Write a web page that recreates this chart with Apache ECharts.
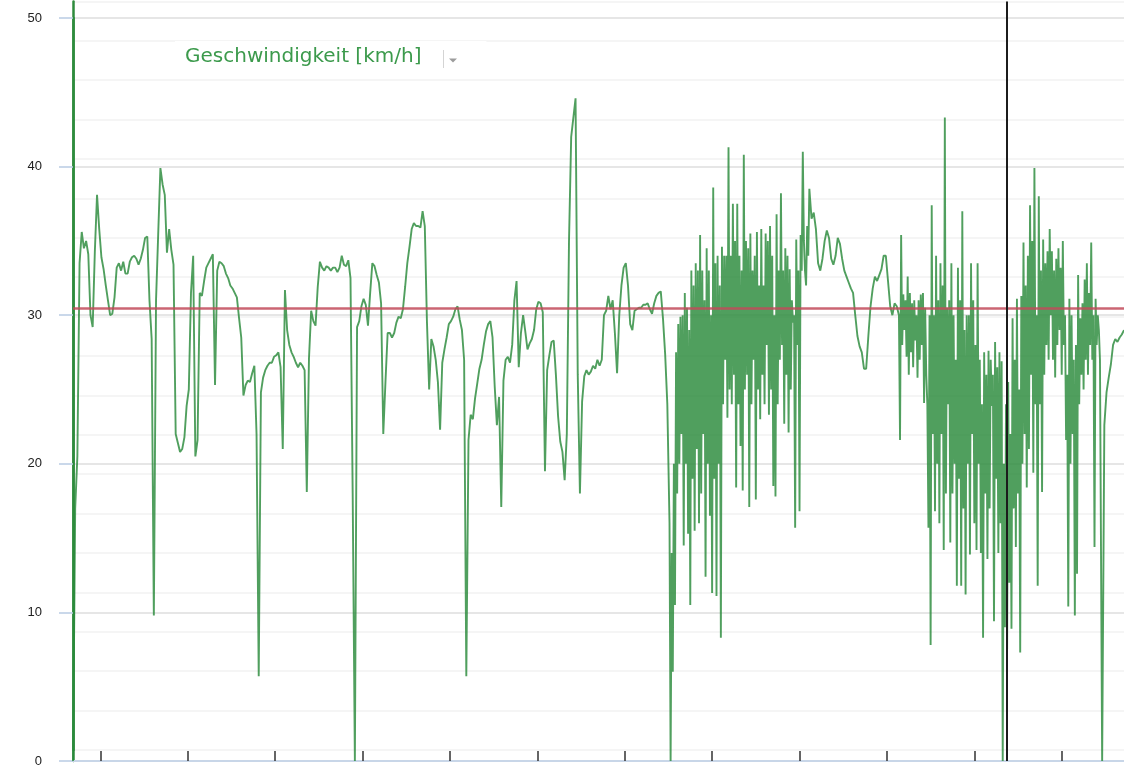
<!DOCTYPE html>
<html>
<head>
<meta charset="utf-8">
<script src="https://cdn.jsdelivr.net/npm/echarts@6/dist/echarts.min.js"></script>
<style>
html,body{margin:0;padding:0;background:#ffffff;}
#chart{width:1124px;height:766px;}
</style>
</head>
<body>
<div id="chart"></div>
<script>
// ---- data ----
const seriesName = 'Geschwindigkeit [km/h]';
const timeMin = 6.875;       // left end of the time axis (minutes)
const timeMax = 127.125;     // right end of the time axis (minutes)
const xTickValues = [10, 20, 30, 40, 50, 60, 70, 80, 90, 100, 110, 120];
const yTickValues = [0, 10, 20, 30, 40, 50];
const avgSpeed = 30.5;       // average speed line
const markerTime = 113.75;   // cursor position (minutes)

// part 1: 6.875 min onward, one reading every 0.25 min
const part1Start = 6.875, part1Step = 0.25;
const speedPart1 = [
  0,17,20.5,33.5,35.6,34.5,35.0,34.1,30.0,29.2,
  34.3,38.1,35.8,33.9,33.1,32.0,31.0,30.0,30.1,31.2,
  33.2,33.5,33.0,33.6,32.8,32.8,33.6,33.9,34.0,33.8,
  33.4,33.8,34.4,35.2,35.3,31.0,28.4,9.8,31.0,35.5,
  39.9,38.8,38.1,34.2,35.8,34.4,33.4,22.0,21.4,20.8,
  21.0,21.8,23.9,25.0,31.5,34.0,20.5,21.6,31.5,31.3,
  32.3,33.2,33.5,33.8,34.1,25.3,33.0,33.6,33.5,33.3,
  32.8,32.5,32.0,31.8,31.5,31.2,29.8,28.5,24.6,25.3,
  25.6,25.5,26.1,26.6,22.0,5.7,24.8,25.8,26.3,26.6,
  26.8,26.8,27.2,27.3,27.5,26.5,21.0,31.7,29.0,28.0,
  27.5,27.2,26.8,26.5,26.8,26.6,26.3,18.1,27.1,30.3,
  29.6,29.3,31.9,33.6,33.2,33.0,33.3,33.2,33.0,33.2,
  33.2,32.9,33.2,34.0,33.4,33.3,33.7,32.5,18.0,0,
  29.2,29.6,30.6,31.1,30.7,29.3,31.5,33.5,33.3,32.7,
  32.2,30.8,22.0,25.5,28.8,28.8,28.5,28.8,29.5,29.9,
  29.8,30.4,31.9,33.5,34.6,35.8,36.2,36.0,36.0,35.9,
  37.0,36.0,29.5,25.0,28.4,27.9,27.0,25.5,22.3,26.8,
  27.7,28.5,29.4,29.6,29.9,30.4,30.6,29.7,29.0,27.0,
  5.7,21.6,23.3,23.0,24.4,25.4,26.4,27.0,28.0,28.9,
  29.4,29.6,28.5,25.2,22.6,24.5,17.1,25.6,27.0,27.2,
  26.8,28.0,31.0,32.3,26.5,28.8,30.0,28.9,27.7,28.1,
  28.4,29.0,30.4,30.9,30.8,30.2,19.5,26.3,27.3,28.2,
  28.3,26.0,23.2,21.5,20.8,18.9,22.0,35.0,42.0,43.3,
  44.6,26.0,18.0,24.2,25.9,26.3,26.0,26.2,26.6,26.4,
  27.0,26.6,27.0,30.0,30.3,31.3,30.4,31.0,28.8,26.1,
  30.0,32.0,33.2,33.5,32.0,29.4,29.0,30.3,30.4,30.5,
  30.5,30.7,30.7,30.8,30.4,30.1,30.8,31.3,31.5,31.6,
  29.8,27.4,24.0
];
// part 2 (busy stretch): 75.125 min onward, one reading every 0.125 min
const part2Start = 75.125, part2Step = 0.125;
const speedPart2 = [
  16,0, 14,6, 20,10.5, 27.5,18, 29.4,20, 29.9,22, 30,14.5, 31.5,20, 30.5,15.3, 29,10.5,
  33.0,19, 32,15.5, 33.5,21, 33,16.0, 35.4,18, 33.0,22, 31,12.4, 34.5,20, 33,16.5, 30,11.3,
  38.6,19, 33.5,11.1, 34.0,20, 32,8.3, 34.6,24, 34.0,27, 34,23.1, 41.3,25, 34.0,24, 37.5,26,
  35,18.4, 37.5,24, 34,21.2, 33,18.2, 40.8,25, 35.0,26, 34.5,17.1, 35.5,24, 33.0,27, 34,17.6,
  35.6,25, 32.0,23, 35.8,26, 32.0,24, 35.5,28, 35,23.3, 36.0,25, 34,18.5, 30,17.8, 36.8,24,
  33.0,27, 38.2,28, 33,22.7, 34.5,26, 34,22.1, 33.1,25, 31,29.5, 30,15.7, 35.1,28, 33,16.8,
  35.4,33, 41.0,35, 33,32.0, 36,34.0,
  38.5
];
// part 3: 91.375 min onward, one reading every 0.25 min
const part3Start = 91.375, part3Step = 0.25;
const speedPart3 = [
  36.5,36.9,35.8,33.5,33.0,33.8,35.0,35.7,35.2,33.8,
  33.4,34.0,35.2,34.8,33.8,33.0,32.6,32.2,31.8,31.5,
  30.0,28.6,27.9,27.5,26.4,26.4,28.6,30.6,31.8,32.6,
  32.3,32.7,33.1,34.0,34.0,32.3,30.6,30.0,30.8,30.6
];
// part 4 (busy stretch): 101.375 min onward, one reading every 0.125 min
const part4Start = 101.375, part4Step = 0.125;
const speedPart4 = [
  30,21.6, 35.4,28, 31.4,29, 31,27.2, 32.6,26, 31.5,27.5, 30.8,26.5, 31,28.3, 30,25.8, 31.0,27,
  31.4,28, 31.5,24.1, 30.5,26, 24,15.7, 30,7.8, 37.4,22, 30,16.8, 34.0,20, 31,16.0, 33.5,22,
  32,14.2, 43.3,18, 30.5,24, 31,14.7, 33.5,18, 30,20.0, 27,11.8, 33.2,19, 31,11.8, 37.0,17,
  29,11.2, 30.0,20, 30,13.9, 33.5,22, 31,16.0, 28,14.2, 33.5,20, 27,14.0, 24,8.3, 27.5,18,
  26,13.6, 27.6,17, 27,23.9, 26,9.4, 28.2,19, 26.5,14.0, 27.5,16, 26.9,0, 20,9, 24,7.5,
  25.5,12, 22,8.9, 29.8,17, 27,14.4, 31.1,18, 25,7.3, 31.3,20, 34.9,22, 32,18.4, 34.0,21,
  37.4,26, 35,19.4, 39.9,24, 30,11.8, 38.0,24, 33,18.1, 35.1,26, 33.5,28, 34.3,27, 35.8,30,
  34.3,27, 33,25.8, 33.8,28, 34.5,29, 33.2,26, 35.0,28, 30,21.6, 26,10.4, 31.1,20, 30,22.0,
  27,9.8, 28,12.6, 32.7,24, 29.8,26, 30.8,25, 32.4,27, 33.5,26, 31.5,28, 34.9,27, 30,14.4,
  31.1,28, 30.0,29,
  27.0
];
// part 5: 124.625 min onward, one reading every 0.25 min
const part5Start = 124.625, part5Step = 0.25;
const speedPart5 = [0,22.6,24.8,25.8,26.7,28.0,28.4,28.2,28.5,28.7,29.0];

// ---- build ----
const parts = [
  [part1Start, part1Step, speedPart1],
  [part2Start, part2Step, speedPart2],
  [part3Start, part3Step, speedPart3],
  [part4Start, part4Step, speedPart4],
  [part5Start, part5Step, speedPart5]
];
const points = [];
parts.forEach(([t0, step, vals]) => vals.forEach((v, i) => points.push([t0 + i * step, v])));

const chart = echarts.init(document.getElementById('chart'), null, {renderer: 'canvas'});
const option = {
  animation: false,
  backgroundColor: '#ffffff',
  grid: [
    {left: 73, right: 0, top: 18, bottom: 5, outerBoundsMode: 'none'},
    {left: 73, right: 0, top: 1.4, bottom: 16, outerBoundsMode: 'none'}
  ],
  legend: {
    data: [{name: seriesName, icon: 'none'}],
    left: 175, top: 41,
    padding: [3, 65, 9, 5],
    itemWidth: 0, itemHeight: 0,
    backgroundColor: '#ffffff',
    selectedMode: false,
    textStyle: {color: '#3c9a4c', fontSize: 20, lineHeight: 26, fontFamily: 'DejaVu Sans'}
  },
  graphic: [
    {type: 'line', z: 100, shape: {x1: 443.5, y1: 50, x2: 443.5, y2: 68}, style: {stroke: '#d4d4d4', lineWidth: 1}},
    {type: 'polygon', z: 100, shape: {points: [[449, 58.5], [457, 58.5], [453, 62.5]]}, style: {fill: '#9c9c9c'}}
  ],
  xAxis: [
    {
      type: 'value', gridIndex: 0, min: timeMin, max: timeMax,
      axisLine: {show: true, onZero: false, lineStyle: {color: '#c8d6e8', width: 2}},
      axisTick: {show: true, inside: true, length: 10, customValues: xTickValues, lineStyle: {color: '#333333', width: 1.5}},
      axisLabel: {show: false},
      splitLine: {show: false}
    },
    {type: 'value', gridIndex: 1, min: timeMin, max: timeMax, show: false}
  ],
  yAxis: [
    {
      type: 'value', gridIndex: 0, min: 0, max: 50, interval: 10,
      axisLine: {show: true, onZero: false, lineStyle: {color: '#2e8b3c', width: 2.5}},
      axisTick: {show: true, length: 14, customValues: yTickValues, lineStyle: {color: '#b9cbe3', width: 1.5}},
      axisLabel: {color: '#222222', fontSize: 13, margin: 31, fontFamily: 'Liberation Sans, Arial, sans-serif', customValues: yTickValues},
      splitLine: {show: true, lineStyle: {color: '#dedede', width: 1.5}}
    },
    {
      type: 'value', gridIndex: 1, min: 0, max: 19, interval: 1,
      axisLine: {show: true, onZero: false, lineStyle: {color: '#2e8b3c', width: 2.5}},
      axisTick: {show: false},
      axisLabel: {show: false},
      splitLine: {show: true, lineStyle: {color: '#f2f2f2', width: 1.5}}
    }
  ],
  series: [
    {
      name: seriesName,
      type: 'line',
      xAxisIndex: 0, yAxisIndex: 0,
      data: points,
      showSymbol: false,
      symbol: 'none',
      sampling: null,
      lineStyle: {color: '#2a8a3a', width: 1.9, opacity: 0.82},
      itemStyle: {color: '#3c9a4c'},
      markLine: {
        silent: true,
        symbol: ['none', 'none'],
        label: {show: false},
        animation: false,
        data: [
          {yAxis: avgSpeed, lineStyle: {color: '#c24a5a', width: 2.5, type: 'solid', opacity: 0.85}},
          {xAxis: markerTime, lineStyle: {color: '#1c1c1c', width: 2, type: 'solid', opacity: 1}}
        ]
      },
      z: 3
    },
    {
      // cursor continuation above the speed grid
      name: 'cursor',
      type: 'line',
      xAxisIndex: 1, yAxisIndex: 1,
      data: [],
      showSymbol: false,
      markLine: {
        silent: true,
        symbol: ['none', 'none'],
        label: {show: false},
        animation: false,
        data: [
          {xAxis: markerTime, lineStyle: {color: '#1c1c1c', width: 2, type: 'solid', opacity: 1}}
        ]
      },
      z: 3
    }
  ]
};
chart.setOption(option);
</script>
</body>
</html>
